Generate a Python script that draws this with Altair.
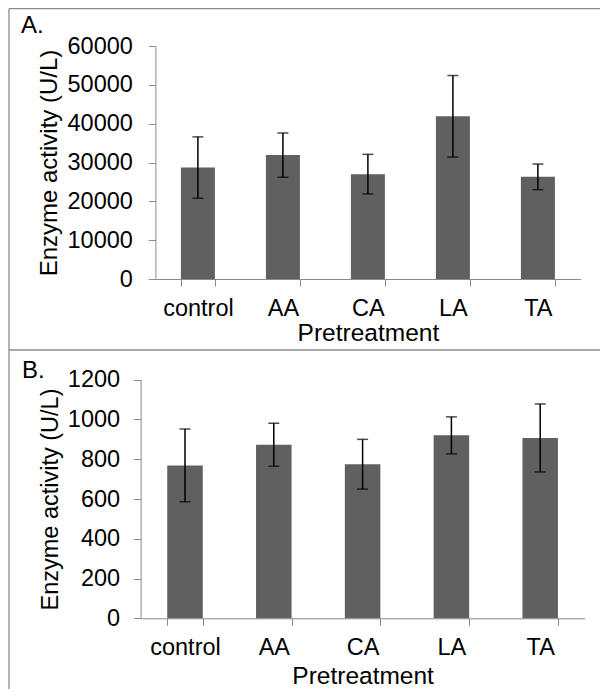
import altair as alt
import pandas as pd

# ---- data ----
categories = ["control", "AA", "CA", "LA", "TA"]
a_values = [28700, 31900, 27000, 41900, 26300]
a_errors = [7900, 5700, 5100, 10500, 3300]
b_values = [769, 873, 775, 920, 907]
b_errors = [183, 108, 125, 93, 171]
a_ticks = [0, 10000, 20000, 30000, 40000, 50000, 60000]
b_ticks = [0, 200, 400, 600, 800, 1000, 1200]

FONT = "Liberation Sans"
BAR = "#606060"
AXIS_GRAY = "#8a8a8a"
FRAME = "#8c8c8c"
YTITLE = "Enzyme activity (U/L)"
XTITLE = "Pretreatment"

W, H = 592, 681  # whole drawing area (chart coordinates = page - 8)


def panel(values, errors, ticks, x0, x1, y_top, y_bottom, ytitle_x, xtitle_y,
          ylabel_pad, ytitle_size):
    df = pd.DataFrame({
        "cat": categories,
        "val": values,
        "lo": [v - e for v, e in zip(values, errors)],
        "hi": [v + e for v, e in zip(values, errors)],
    })
    xscale = alt.Scale(range=[x0, x1], paddingInner=0.6, paddingOuter=0.3)
    xaxis = alt.Axis(
        title=XTITLE, orient="bottom", offset=-(H - y_bottom),
        labelAngle=0, labelFontSize=23.5, labelFont=FONT, labelColor="black",
        labelBaseline="alphabetic", labelPadding=29.5,
        tickBand="extent", tickSize=7, tickColor=AXIS_GRAY, domainColor=AXIS_GRAY,
        titleFontSize=24.5, titleFont=FONT, titleFontWeight="normal", titleColor="black",
        titleBaseline="alphabetic", titleY=xtitle_y, titleAnchor="middle",
    )
    yscale = alt.Scale(domain=[0, ticks[-1]], range=[y_bottom, y_top], nice=False, zero=True)
    yaxis = alt.Axis(
        title=YTITLE, orient="left", offset=-x0,
        values=ticks, format="d", grid=False, labelOverlap=False,
        labelFontSize=23.5, labelFont=FONT, labelColor="black",
        labelPadding=ylabel_pad, labelBaseline="middle",
        tickSize=7, tickColor=AXIS_GRAY, domainColor=AXIS_GRAY,
        titleFontSize=ytitle_size, titleFont=FONT, titleFontWeight="normal",
        titleColor="black", titleBaseline="alphabetic", titleX=ytitle_x,
    )

    def X():
        return alt.X("cat:N", sort=categories, scale=xscale, axis=xaxis)

    def Y(field):
        return alt.Y(field, scale=yscale, axis=yaxis, title=YTITLE)

    base = alt.Chart(df)
    bars = base.mark_bar(color=BAR).encode(x=X(), y=Y("val:Q"))
    err = base.mark_rule(color="black", strokeWidth=1.5).encode(
        x=X(), y=Y("lo:Q"), y2="hi:Q"
    )
    cap_lo = base.mark_tick(color="black", thickness=1.5, size=11).encode(
        x=X(), y=Y("lo:Q")
    )
    cap_hi = base.mark_tick(color="black", thickness=1.5, size=11).encode(
        x=X(), y=Y("hi:Q")
    )
    return alt.layer(bars, err, cap_lo, cap_hi)


# panel A: plot area page x 155.4-580.4, y 46-279 ; panel B: x 140.6-584.6, y 379.7-618.3
panel_a = panel(a_values, a_errors, a_ticks, 147.4, 572.4, 38, 271,
                ytitle_x=-98.4, xtitle_y=61, ylabel_pad=16, ytitle_size=24)
panel_b = panel(b_values, b_errors, b_ticks, 132.6, 576.6, 371.7, 610.3,
                ytitle_x=-83.6, xtitle_y=65, ylabel_pad=14, ytitle_size=23.5)

one = pd.DataFrame({"k": [0]})
fr = alt.Chart(one)


def hline(x_a, x_b, y):
    return fr.mark_rule(color=FRAME, strokeWidth=1.3).encode(
        x=alt.value(x_a), x2=alt.value(x_b), y=alt.value(y)
    )


def vline(x, y_a, y_b):
    return fr.mark_rule(color=FRAME, strokeWidth=1.3).encode(
        x=alt.value(x), y=alt.value(y_a), y2=alt.value(y_b)
    )


def tag(text, x, y):
    return fr.mark_text(
        fontSize=24, font=FONT, color="black", align="left", baseline="alphabetic"
    ).encode(x=alt.value(x), y=alt.value(y), text=alt.value(text))


frame = alt.layer(
    hline(1, W, 0.7),
    hline(1, W, 342),
    vline(1, 0.7, H),
    tag("A.", 13, 25),
    tag("B.", 14, 370),
)

chart = alt.layer(panel_a, panel_b, frame).resolve_scale(
    x="independent", y="independent"
).resolve_axis(
    x="independent", y="independent"
).properties(
    width=W, height=H, padding=0,
    autosize=alt.AutoSizeParams(type="none"),
).configure_view(stroke=None).configure_axisY(labelOverlap=False)

chart.save("out.html", embed_options={"renderer": "svg", "actions": False})
